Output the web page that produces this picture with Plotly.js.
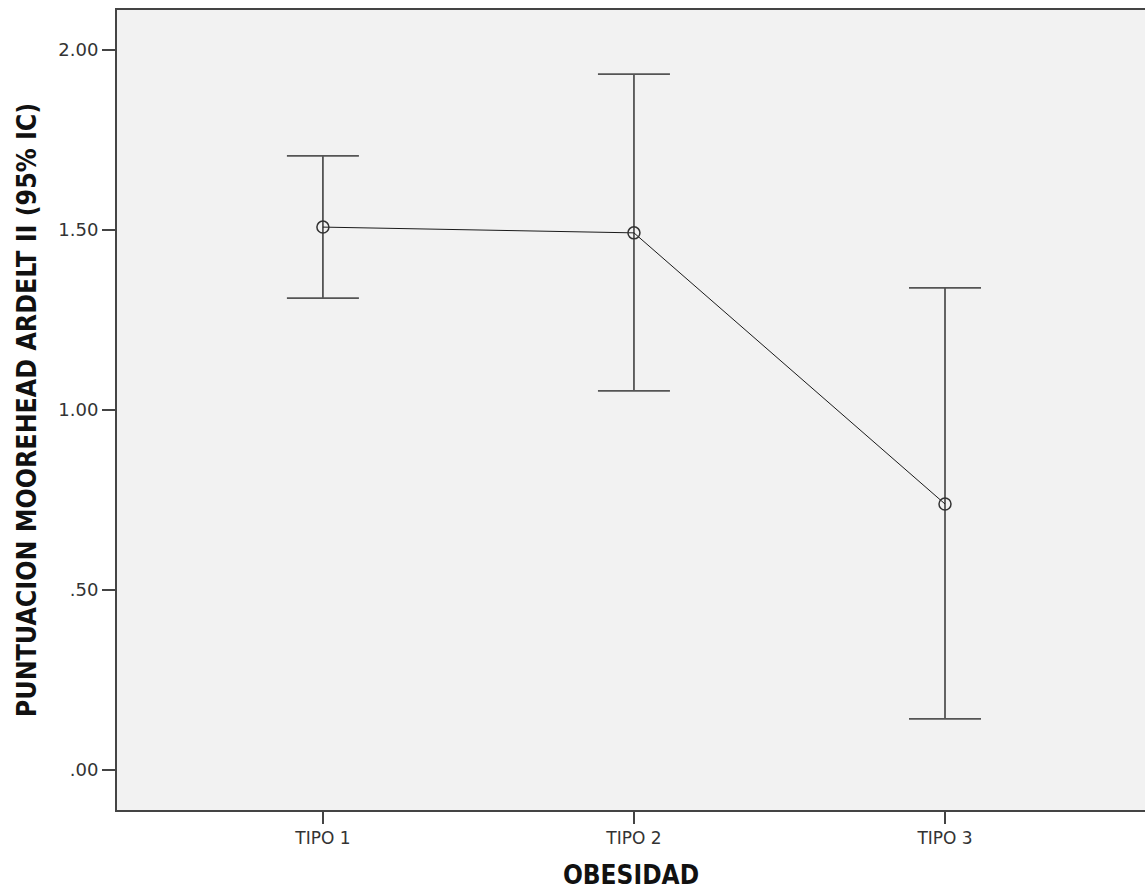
<!DOCTYPE html>
<html>
<head>
<meta charset="utf-8">
<script src="https://cdn.plot.ly/plotly-3.0.1.min.js"></script>
<style>html,body{margin:0;padding:0;background:#fff;}#chart{width:1145px;height:893px;}</style>
</head>
<body>
<div id="chart"></div>
<script>
const categories = ["TIPO 1", "TIPO 2", "TIPO 3"];
const means = [1.508, 1.492, 0.739];
const upperCI = [1.706, 1.933, 1.339];
const lowerCI = [1.311, 1.053, 0.142];
const yTickVals = [0, 0.5, 1.0, 1.5, 2.0];
const yTickText = [".00", ".50", "1.00", "1.50", "2.00"];

const xIdx = categories.map((c, i) => i);
const errPlus = upperCI.map((u, i) => u - means[i]);
const errMinus = lowerCI.map((l, i) => means[i] - l);

const trace = {
  x: xIdx,
  y: means,
  type: "scatter",
  mode: "lines+markers",
  line: {color: "#1a1a1a", width: 1},
  marker: {symbol: "circle-open", size: 12, color: "#333333", line: {width: 1.5}},
  error_y: {
    type: "data", symmetric: false,
    array: errPlus, arrayminus: errMinus,
    color: "#555555", thickness: 1.8, width: 36
  },
  hoverinfo: "skip"
};

const titleFam = "'DejaVu Sans Condensed', 'Liberation Sans Narrow', 'Open Sans', sans-serif";
const tickFam = "'DejaVu Sans', 'Open Sans', sans-serif";

const layout = {
  width: 1145, height: 893,
  margin: {l: 117, r: 0, t: 10, b: 83},
  paper_bgcolor: "#ffffff",
  plot_bgcolor: "#f2f2f2",
  showlegend: false,
  xaxis: {
    range: [-0.662, 2.643],
    tickvals: xIdx, ticktext: categories,
    ticks: "outside", ticklen: 12, tickwidth: 2, tickcolor: "#444",
    showline: true, linecolor: "#444", linewidth: 2, mirror: true,
    showgrid: false, zeroline: false,
    tickfont: {family: tickFam, size: 17, color: "#333"},
    title: {text: "OBESIDAD", font: {family: titleFam, size: 26, color: "#111", weight: "bold"}, standoff: 18}
  },
  yaxis: {
    range: [-0.111, 2.111],
    tickvals: yTickVals, ticktext: yTickText,
    ticks: "outside", ticklen: 13, tickwidth: 2, tickcolor: "#444",
    showline: true, linecolor: "#444", linewidth: 2,
    showgrid: false, zeroline: false,
    tickfont: {family: tickFam, size: 18, color: "#333"},
    title: {text: "PUNTUACION MOOREHEAD ARDELT II (95% IC)", font: {family: titleFam, size: 26.5, color: "#111", weight: "bold"}, standoff: 14}
  }
};

Plotly.newPlot("chart", [trace], layout, {displayModeBar: false, staticPlot: true});
</script>
</body>
</html>
